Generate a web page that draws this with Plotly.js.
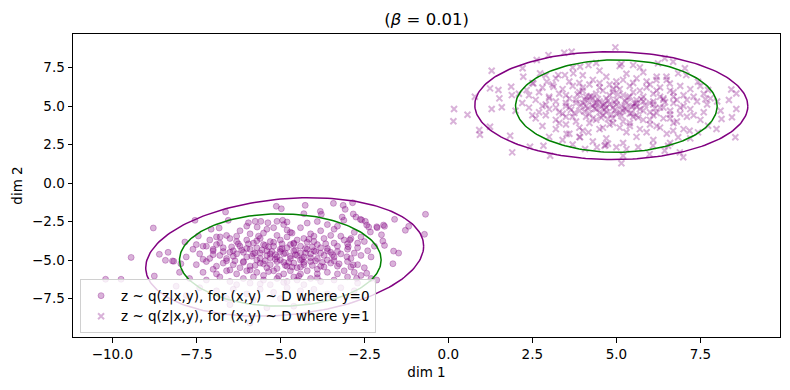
<!DOCTYPE html>
<html>
<head>
<meta charset="utf-8">
<script src="https://cdn.plot.ly/plotly-3.0.1.min.js"></script>
<style>html,body{margin:0;padding:0;background:#fff;}#chart{width:790px;height:390px;}</style>
</head>
<body>
<div id="chart"></div>
<script>
// ---- data ----
const class0X = [
-8.78,-9.44,-8.6,-8.34,-8.42,-8.17,-7.96,-7.54,-6.63,-6.55,-7.44,-7.06,-6.82,-6.79,-5.95,-5.75,-5.58,-5.69,-7.84,-7.5,-7.2,-7.0,
-0.68,-0.71,-1.28,-1.18,-1.63,-1.48,-1.65,-1.6,-1.9,-2.12,-1.99,-1.95,-1.9,-2.85,-3.13,-3.07,-4.26,-5.12,-4.97,-4.3,-3.81,-3.78,-3.16,-3.11,-2.75,-2.62,-2.47,-2.37,-2.32,-5.37,-5.1,-4.93,-4.8,
-10.2,-9.74,-8.75,-8.21,-2.58,-2.43,-2.13,-1.93,-2.83,-3.42,-2.93,-2.98,-3.02,-2.83,-2.73,-2.43,-2.13,
-6.2,-5.9,-5.4,-5.1,-4.7,-4.4,-4.1,-3.8,-3.5,-3.3,-6.6,-4.9,-4.2,-3.9,-3.6,-5.2,-6.0,-3.4,-2.8,-2.6,
-7.1,-6.8,-6.5,-6.3,-6.0,-5.8,-5.6,-5.3,-5.0,-4.8,-4.6,-4.3,-4.0,-3.7,-3.4,-3.1,-2.9,-2.7,-5.5,-4.5,-3.9,-6.9,-2.5,
-7.6,-7.3,-7.0,-6.7,-6.4,-6.2,-5.9,-5.7,-5.4,-5.2,-5.0,-4.8,-4.6,-4.4,-4.2,-4.0,-3.8,-3.6,-3.3,-3.0,-2.7,-2.4,-6.1,-5.3,-4.7,-3.5,-2.2,-6.9,
-7.8,-7.4,-7.1,-6.8,-6.6,-6.3,-6.0,-5.8,-5.6,-5.4,-5.1,-4.9,-4.7,-4.5,-4.3,-4.1,-3.9,-3.7,-3.4,-3.2,-2.9,-2.6,-2.3,-5.0,-4.4,-5.7,-6.5,-3.6,
-7.5,-7.2,-6.9,-6.7,-6.4,-6.1,-5.9,-5.6,-5.3,-5.1,-4.8,-4.6,-4.3,-4.1,-3.8,-3.5,-3.3,-3.0,-2.7,-2.5,-6.2,-5.4,-4.5,-3.9,-7.0,
-7.3,-6.9,-6.6,-6.3,-6.0,-5.7,-5.5,-5.2,-4.9,-4.7,-4.4,-4.2,-3.9,-3.6,-3.3,-3.1,-2.8,-2.6,-8.0,-5.8,-4.6,
-7.7,-7.2,-6.8,-6.5,-6.1,-5.9,-5.5,-5.1,-4.8,-4.5,-4.1,-3.8,-3.4,-3.0,-2.7,-2.3,-6.3,-5.3,-4.3,
-7.4,-6.9,-6.4,-6.0,-5.6,-5.2,-4.8,-4.4,-4.0,-3.6,-3.2,-2.8,-6.6,-5.8,-5.0,-4.2,-3.4,-6.5,-5.4,-4.6,-5.9,-8.1,-7.8,
-5.25,-4.85,-4.55,-4.25,-5.55,-5.15,-4.75,-4.35,-3.95,-5.85,-6.15,-3.75,-5.35,-4.05,-5.65,-4.65,-3.65,-6.45,-4.95,-5.05,-4.15,-5.75,-3.45,-6.35,-4.45,-3.25,-5.45,-4.05,-4.85,-5.95,
-5.6,-5.3,-5.0,-4.7,-4.4,-4.1,-3.8,-6.0,-5.7,-5.2,-4.6,-4.2,-3.6,-3.3,-6.4,-6.7,-6.1,-5.5,-4.9,-4.3,-3.7,-3.4,-6.5,-5.9,-5.1,-4.4,-3.9,-4.9,-5.6,-4.0,-4.8,-5.5,-6.3,-3.2,-3.0,-2.8,-2.9,-7.3,-7.0,-6.6,-5.35,-4.95,-4.55,-5.15,-4.25,-5.75,-4.65,-5.45,-3.95,-6.25
];
const class0Y = [
-2.92,-4.83,-4.63,-4.5,-5.02,-5.08,-5.24,-2.42,-1.88,-2.42,-3.44,-3.0,-2.92,-3.5,-2.58,-2.49,-2.49,-2.86,-3.83,-4.0,-4.1,-4.3,
-2.03,-3.33,-3.07,-2.81,-4.42,-4.55,-5.24,-2.36,-2.81,-2.9,-3.36,-3.77,-4.05,-1.28,-1.45,-1.71,-1.45,-1.51,-1.67,-1.99,-1.84,-2.03,-2.21,-2.42,-2.21,-2.36,-2.49,-2.86,-3.18,-2.58,-2.49,-2.42,-2.53,
-6.25,-6.25,-6.04,-5.06,-2.4,-2.73,-2.84,-2.73,-2.01,-1.32,-3.7,-4.14,-4.79,-5.32,-6.19,-5.86,-6.3,
-3.1,-3.3,-3.0,-3.4,-3.2,-2.9,-3.3,-3.1,-3.4,-2.8,-3.4,-2.7,-2.6,-2.5,-2.7,-2.9,-2.8,-3.0,-3.2,-3.5,
-3.7,-3.9,-3.6,-3.8,-3.7,-3.9,-3.6,-3.8,-3.7,-3.5,-3.9,-3.6,-3.8,-3.6,-3.9,-3.7,-3.6,-3.9,-4.0,-3.7,-4.0,-3.5,-3.8,
-4.3,-4.1,-4.4,-4.2,-4.4,-4.1,-4.3,-4.2,-4.4,-4.1,-4.3,-4.2,-4.4,-4.1,-4.3,-4.4,-4.2,-4.4,-4.1,-4.3,-4.2,-4.4,-4.5,-4.6,-4.0,-4.5,-4.1,-4.0,
-4.8,-4.6,-4.9,-4.7,-4.9,-4.6,-4.8,-4.6,-4.9,-4.7,-4.8,-4.6,-4.9,-4.7,-4.8,-4.6,-4.9,-4.7,-4.8,-4.6,-4.9,-4.7,-4.8,-5.0,-5.0,-5.0,-4.5,-5.0,
-5.3,-5.1,-5.4,-5.2,-5.3,-5.1,-5.4,-5.2,-5.3,-5.1,-5.4,-5.2,-5.3,-5.1,-5.4,-5.2,-5.4,-5.1,-5.3,-5.5,-5.5,-5.5,-5.5,-5.6,-5.6,
-5.8,-5.9,-5.7,-5.9,-5.7,-5.8,-6.0,-5.7,-5.9,-5.7,-5.9,-5.7,-5.9,-5.8,-5.9,-5.7,-5.8,-6.0,-5.8,-6.1,-6.1,
-6.2,-6.3,-6.1,-6.4,-6.2,-6.5,-6.3,-6.2,-6.4,-6.3,-6.2,-6.4,-6.3,-6.1,-6.5,-6.2,-6.6,-6.6,-6.6,
-6.8,-7.0,-6.9,-7.2,-6.9,-7.1,-6.8,-7.0,-6.9,-7.2,-6.8,-7.0,-7.5,-7.6,-7.5,-7.7,-7.4,-7.9,-8.1,-8.0,-9.1,-6.7,-7.3,
-4.45,-4.55,-4.35,-4.55,-4.35,-4.95,-5.15,-4.95,-4.45,-4.75,-4.35,-5.15,-5.75,-5.35,-3.45,-3.25,-3.95,-4.15,-3.95,-6.05,-3.65,-5.35,-4.65,-5.05,-6.05,-5.25,-4.05,-4.15,-5.35,-3.95,
-4.55,-4.85,-4.45,-4.75,-4.55,-4.85,-4.55,-4.25,-3.75,-3.85,-3.95,-3.85,-4.25,-4.45,-4.75,-4.45,-5.15,-5.25,-5.15,-5.15,-5.45,-5.05,-5.65,-5.65,-5.55,-5.45,-6.15,-6.45,-6.55,-3.45,-3.05,-3.25,-3.45,-3.45,-3.95,-4.55,-5.45,-4.95,-4.65,-5.05,-4.15,-4.25,-4.65,-4.65,-4.25,-4.55,-5.45,-5.05,-5.05,-3.95
];
const class1X = [
1.29,0.79,1.24,1.49,1.52,1.87,1.89,2.21,2.23,2.63,2.98,3.45,3.67,2.73,2.93,3.13,2.53,2.33,3.27,3.47,3.72,3.92,4.17,
4.97,5.15,5.5,5.7,6.24,6.44,6.69,6.84,7.04,7.08,7.43,7.73,7.65,8.35,8.42,8.57,6.49,6.59,6.19,
0.17,0.15,0.57,0.92,0.94,1.24,1.29,1.59,1.84,1.9,2.43,2.83,3.03,3.52,3.92,4.17,4.42,4.07,
5.15,4.65,5.0,5.2,6.99,6.89,6.54,8.57,8.44,8.54,8.13,7.98,7.73,7.43,7.18,6.84,6.69,5.99,6.44,6.09,5.65,
3.2,3.6,4.0,4.3,4.7,5.0,5.3,5.6,5.9,6.2,6.5,4.5,5.8,3.9,2.9,5.1,4.4,3.7,
2.8,3.1,3.4,3.7,4.0,4.2,4.5,4.8,5.1,5.4,5.7,6.0,6.3,6.6,6.9,7.2,2.5,7.5,4.6,5.5,
2.4,2.7,3.0,3.3,3.6,3.9,4.1,4.4,4.7,4.9,5.2,5.5,5.8,6.1,6.4,6.7,7.0,7.3,2.1,7.8,4.3,5.6,6.2,
2.2,2.6,2.9,3.2,3.5,3.8,4.0,4.3,4.5,4.8,5.0,5.3,5.5,5.8,6.1,6.4,6.7,7.0,7.4,7.7,8.0,4.6,4.15,5.15,
2.0,2.4,2.7,3.0,3.3,3.6,3.9,4.2,4.4,4.7,4.9,5.2,5.4,5.7,6.0,6.3,6.6,6.9,7.2,7.6,8.1,5.6,4.55,6.2,
2.6,2.9,3.2,3.5,3.8,4.1,4.4,4.6,4.9,5.2,5.5,5.8,6.1,6.4,6.8,7.1,7.5,3.4,5.0,6.6,
2.8,3.2,3.5,3.9,4.2,4.5,4.8,5.1,5.4,5.7,6.0,6.3,6.7,7.0,4.0,5.9,3.6,6.5,
3.0,3.4,3.9,4.3,4.7,5.2,5.6,6.1,6.6,4.68,4.75,5.3,3.7,7.2,
4.35,4.65,4.95,5.25,5.55,4.15,3.95,4.85,5.45,4.25,5.05,4.55,3.75,5.85,6.15,4.45,5.35,3.85,6.45,4.75,5.65,4.05,5.15,6.0,3.5,6.8,4.9,5.3,
4.4,4.7,5.0,5.3,5.6,4.1,3.8,4.5,5.1,5.8,6.1,6.4,4.2,4.8,5.4,3.5,3.2,6.7,6.9,7.1,4.0,5.0,5.9,4.3,5.6,6.0,3.7,4.9,5.4,6.6,3.3,4.6,6.2,7.3,2.8,2.5,3.0,7.6,5.2,4.5,4.65,4.95,5.25,4.35,5.75,4.05,5.45,3.65,6.3,4.75
];
const class1Y = [
7.29,5.6,6.15,6.04,5.5,6.25,5.71,7.45,6.9,7.99,8.31,8.46,8.53,7.12,6.58,6.25,6.47,6.04,7.01,7.01,7.12,7.55,7.66,
8.81,7.73,7.66,7.51,7.77,8.1,7.88,7.12,7.45,7.01,6.58,6.04,5.44,5.39,6.08,5.82,6.9,6.47,6.69,
4.81,4.01,4.44,3.44,3.14,3.66,4.81,4.92,3.07,1.99,2.36,2.42,1.77,3.18,2.97,3.29,2.32,2.21,
1.28,2.42,2.32,1.77,1.67,1.99,2.42,4.81,4.27,2.97,4.16,3.51,3.72,3.29,3.4,2.97,3.4,1.88,2.1,2.42,2.32,
6.8,6.6,7.0,6.7,6.9,6.6,7.1,6.8,6.6,6.9,6.7,7.3,7.2,6.5,7.0,7.6,7.8,7.5,
6.2,6.4,6.1,6.3,6.0,6.4,6.2,6.4,6.1,6.3,6.0,6.4,6.2,6.0,6.3,6.1,6.5,6.3,6.0,6.5,
5.7,5.9,5.6,5.8,5.5,5.9,5.6,5.8,5.5,5.9,5.7,5.9,5.6,5.8,5.5,5.9,5.7,5.6,5.8,5.5,5.5,5.4,6.0,
5.2,5.4,5.1,5.3,5.0,5.4,5.2,5.0,5.3,5.1,5.4,5.2,5.0,5.3,5.1,5.4,5.2,5.0,5.3,5.1,5.3,5.05,5.35,5.0,
4.7,4.9,4.6,4.8,4.6,4.9,4.7,4.5,4.8,4.6,4.9,4.7,4.5,4.8,4.6,4.9,4.7,4.5,4.8,4.6,4.7,4.95,4.95,4.55,
4.2,4.4,4.1,4.3,4.0,4.3,4.1,4.4,4.2,4.0,4.3,4.1,4.4,4.2,4.0,4.3,4.1,4.5,4.5,4.45,
3.7,3.5,3.8,3.6,3.9,3.5,3.8,3.6,3.9,3.5,3.8,3.6,3.9,3.5,3.4,3.3,3.2,3.2,
3.0,2.8,3.0,2.7,2.9,2.6,3.0,2.8,2.6,2.47,2.55,2.2,2.5,2.9,
5.15,4.75,5.25,4.85,5.15,4.85,5.05,4.45,4.55,5.65,5.75,4.25,4.55,5.05,4.85,5.45,5.55,5.75,5.25,5.35,4.25,4.65,4.35,5.2,5.2,5.4,6.1,3.3,
5.2,4.9,5.1,4.8,5.2,5.0,5.2,4.6,4.6,4.7,5.3,4.9,5.6,5.7,5.6,5.7,4.9,5.6,4.9,5.4,6.2,6.3,6.2,4.2,4.4,4.1,4.3,3.9,3.7,4.2,3.9,3.6,3.7,4.4,5.0,4.4,5.5,5.8,6.7,6.5,5.15,4.75,5.35,4.85,5.45,5.45,4.95,4.75,5.6,4.15
];
// prior (green) and aggregate-posterior (purple) ellipse parameters
const priorMean0 = [-5, -5];
const priorMean1 = [5, 5];
const priorCov = [[9, 0], [0, 9]];
const postMean0 = [-4.87, -4.8];
const postCov0 = [[17.1, 2.9], [2.9, 14.8]];
const postMean1 = [4.85, 5.03];
const postCov1 = [[16.5, -0.15], [-0.15, 12.25]];
const legendNames = ["z ~ q(z|x,y), for (x,y) ~ D where y=0", "z ~ q(z|x,y), for (x,y) ~ D where y=1"];
const xTickVals = [-10, -7.5, -5, -2.5, 0, 2.5, 5, 7.5];
const xTickText = ["\u221210.0", "\u22127.5", "\u22125.0", "\u22122.5", "0.0", "2.5", "5.0", "7.5"];
const yTickVals = [-7.5, -5, -2.5, 0, 2.5, 5, 7.5];
const yTickText = ["\u22127.5", "\u22125.0", "\u22122.5", "0.0", "2.5", "5.0", "7.5"];

function ellipse(mean, cov, color) {
  const l11 = Math.sqrt(cov[0][0]);
  const l21 = cov[1][0] / l11;
  const l22 = Math.sqrt(cov[1][1] - l21 * l21);
  const xs = [], ys = [];
  for (let i = 0; i <= 200; i++) {
    const t = 2 * Math.PI * i / 200;
    const c = Math.cos(t), s = Math.sin(t);
    xs.push(mean[0] + l11 * c);
    ys.push(mean[1] + l21 * c + l22 * s);
  }
  return {x: xs, y: ys, mode: 'lines', type: 'scatter', showlegend: false, hoverinfo: 'skip',
          line: {color: color, width: 1.5}};
}

const FONT = 'DejaVu Sans, sans-serif';
const pc = 'rgba(128,0,128,0.3)';
const traces = [
  {x: class0X, y: class0Y, type: 'scatter', mode: 'markers', name: legendNames[0],
   marker: {symbol: 'circle', size: 6, color: pc, line: {color: 'rgba(128,0,128,0.3)', width: 1}}},
  {x: class1X, y: class1Y, type: 'scatter', mode: 'markers', name: legendNames[1],
   marker: {symbol: 'x-thin-open', size: 6, color: pc, line: {color: pc, width: 2}}},
  ellipse(priorMean0, priorCov, '#008000'),
  ellipse(postMean0, postCov0, '#800080'),
  ellipse(priorMean1, priorCov, '#008000'),
  ellipse(postMean1, postCov1, '#800080')
];

const axisCommon = {showline: true, mirror: true, linecolor: '#000', linewidth: 1, ticks: 'outside',
  ticklen: 4.5, tickwidth: 1, tickcolor: '#000', showgrid: false, zeroline: false,
  tickfont: {family: FONT, size: 13.5, color: '#000'}, tickmode: 'array'};

const layout = {
  width: 790, height: 390,
  margin: {l: 73, r: 10, t: 34, b: 53},
  paper_bgcolor: '#fff', plot_bgcolor: '#fff',
  font: {family: FONT, color: '#000'},
  title: {text: '(<i>\u03b2</i> = 0.01)', font: {family: FONT, size: 16.5, color: '#000'},
          x: 0.54, xanchor: 'center', y: 0.951, yref: 'container', yanchor: 'middle'},
  xaxis: Object.assign({}, axisCommon, {range: [-11.17, 9.87], tickvals: xTickVals, ticktext: xTickText,
          title: {text: 'dim 1', font: {family: FONT, size: 13.5, color: '#000'}, standoff: 6}}),
  yaxis: Object.assign({}, axisCommon, {range: [-10.0, 9.68], tickvals: yTickVals, ticktext: yTickText,
          title: {text: 'dim 2', font: {family: FONT, size: 13.5, color: '#000'}, standoff: 6}}),
  legend: {x: 0.01, y: 0.012, xanchor: 'left', yanchor: 'bottom', bgcolor: 'rgba(255,255,255,0.8)',
           bordercolor: '#d0d0d0', borderwidth: 1, font: {family: FONT, size: 13.5, color: '#000'},
           tracegroupgap: 0, itemwidth: 30},
  showlegend: true
};

Plotly.newPlot('chart', traces, layout, {staticPlot: true, displayModeBar: false});
</script>
</body>
</html>
